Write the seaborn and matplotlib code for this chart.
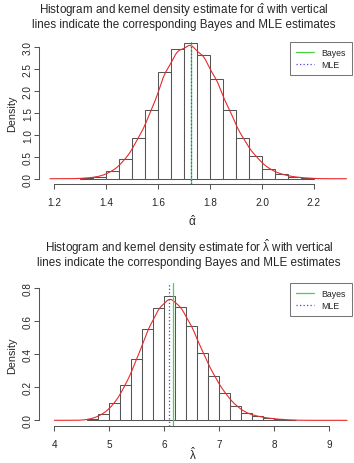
import numpy as np
import pandas as pd
import matplotlib
matplotlib.use("Agg")
import matplotlib.pyplot as plt
from matplotlib.lines import Line2D
import seaborn as sns

# histogram bin edges and densities
alpha_edges = [1.30, 1.35, 1.40, 1.45, 1.50, 1.55, 1.60, 1.65, 1.70, 1.75,
               1.80, 1.85, 1.90, 1.95, 2.00, 2.05, 2.10, 2.15, 2.20]
alpha_dens = [0.015, 0.05, 0.17, 0.44, 0.93, 1.56, 2.43, 2.95, 3.10,
              2.82, 2.27, 1.56, 0.93, 0.51, 0.23, 0.10, 0.04, 0.015]
alpha_bayes = 1.727
alpha_mle = 1.727

lambda_edges = [4.6, 4.8, 5.0, 5.2, 5.4, 5.6, 5.8, 6.0, 6.2, 6.4,
                6.6, 6.8, 7.0, 7.2, 7.4, 7.6, 7.8, 8.0, 8.2, 8.4]
lambda_dens = [0.01, 0.04, 0.103, 0.216, 0.37, 0.552, 0.68, 0.752, 0.687,
               0.57, 0.41, 0.271, 0.164, 0.087, 0.042, 0.024, 0.012, 0.006, 0.002]
lambda_bayes = 6.15
lambda_mle = 6.085

sns.set_style("white")
plt.rcParams['font.family'] = ['Liberation Sans', 'DejaVu Sans']
plt.rcParams['mathtext.fontset'] = 'custom'
plt.rcParams['mathtext.rm'] = 'Liberation Sans'
plt.rcParams['mathtext.it'] = 'Liberation Sans'

edge_col = '#555555'
green = '#44d444'
blue = '#4545e0'
dots = (0, (1.0, 1.8))

fig = plt.figure(figsize=(3.54, 4.64), dpi=100)
ax1 = fig.add_axes([39/354, 1-185/464, 313/354, 142/464])
ax2 = fig.add_axes([39/354, 1-426.6/464, 313/354, 142.6/464])


def panel(ax, edges, dens, bayes, mle, clip, bw, xlim, ylim, yticks, xticks, sym, xlab_y):
    e = np.array(edges)
    df = pd.DataFrame({'x': (e[:-1] + e[1:]) / 2, 'd': dens})
    sns.histplot(data=df, x='x', weights='d', bins=list(edges), stat='count',
                 color='white', edgecolor=edge_col, linewidth=0.75, alpha=1, ax=ax)
    sns.kdeplot(data=df, x='x', weights='d', bw_method=bw, clip=clip, cut=20,
                gridsize=400, color='#e82a2a', linewidth=0.8, ax=ax)
    ax.axvline(bayes, color=green, lw=0.9)
    ax.axvline(mle, color=blue, lw=0.9, ls=dots)
    ax.set_xlim(*xlim)
    ax.set_ylim(*ylim)
    ax.set_yticks(yticks)
    ax.set_yticklabels([f"{t:.1f}" for t in yticks], rotation=90, va='center')
    ax.set_xticks(xticks)
    if sym == 'alpha':
        ax.set_xticklabels([f"{t:.1f}" for t in xticks])
    else:
        ax.set_xticklabels([f"{t:d}" for t in xticks])
    for s in ['top', 'right']:
        ax.spines[s].set_visible(False)
    ax.spines['left'].set_bounds(yticks[0], yticks[-1])
    ax.spines['bottom'].set_bounds(xticks[0], xticks[-1])
    for s in ['left', 'bottom']:
        ax.spines[s].set_color(edge_col)
        ax.spines[s].set_linewidth(0.75)
    ax.tick_params(axis='both', direction='out', length=3.6, width=0.75,
                   color=edge_col, labelsize=7.2, left=True, bottom=True)
    ax.tick_params(axis='x', pad=6)
    ax.tick_params(axis='y', pad=0.8)
    ax.set_ylabel('Density', fontsize=7.8)
    ax.yaxis.set_label_coords(-0.07, 0.5)
    lab = r'$\hat{\mathrm{\alpha}}$' if sym == 'alpha' else r'$\hat{\mathrm{\lambda}}$'
    ax.set_xlabel(lab, fontsize=8.5)
    ax.xaxis.set_label_coords(0.491, xlab_y)
    handles = [Line2D([], [], color=green, lw=0.9),
               Line2D([], [], color=blue, lw=0.9, ls=dots)]
    leg = ax.legend(handles, ['Bayes', 'MLE'], loc='upper right',
                    bbox_to_anchor=(1, 1), borderaxespad=0, fontsize=6.3,
                    frameon=True, fancybox=False, handlelength=2.0,
                    handletextpad=0.9, labelspacing=0.3, borderpad=0.7)
    leg.get_frame().set_edgecolor(edge_col)
    leg.get_frame().set_linewidth(0.75)


panel(ax1, alpha_edges, alpha_dens, alpha_bayes, alpha_mle, (1.183, 2.326), 0.2,
      (1.141, 2.347), (-0.12, 3.12), [0.0, 0.5, 1.0, 1.5, 2.0, 2.5, 3.0],
      [1.2, 1.4, 1.6, 1.8, 2.0, 2.2], 'alpha', -0.205)
panel(ax2, lambda_edges, lambda_dens, lambda_bayes, lambda_mle, (4.0, 9.32), 0.2,
      (3.72, 9.41), (-0.032, 0.832), [0.0, 0.2, 0.4, 0.6, 0.8],
      [4, 5, 6, 7, 8, 9], 'lambda', -0.143)

fig.text(184/354, 1-2/464,
         'Histogram and kernel density estimate for ' + r'$\hat{\mathrm{\alpha}}$' +
         ' with vertical\nlines indicate the corresponding Bayes and MLE estimates',
         ha='center', va='top', fontsize=8.4, linespacing=1.0)
fig.text(189/354, 1-238/464,
         'Histogram and kernel density estimate for ' + r'$\hat{\mathrm{\lambda}}$' +
         ' with vertical\nlines indicate the corresponding Bayes and MLE estimates',
         ha='center', va='top', fontsize=8.4, linespacing=1.0)

fig.savefig('out.png', dpi=100)
